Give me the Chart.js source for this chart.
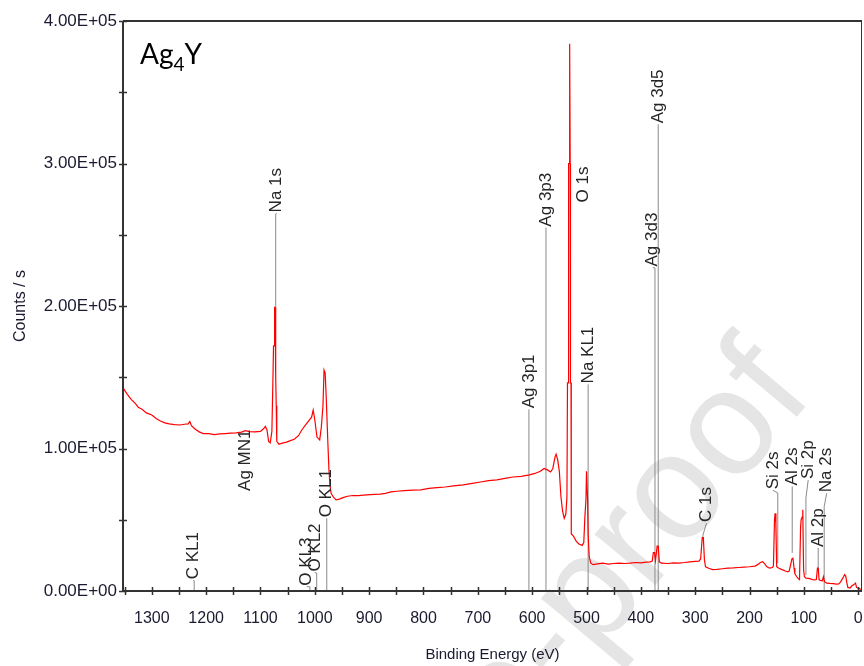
<!DOCTYPE html>
<html>
<head>
<meta charset="utf-8">
<script src="https://cdn.jsdelivr.net/npm/chart.js@4.4.1/dist/chart.umd.min.js"></script>
<style>
html, body { margin: 0; padding: 0; background: #fff; }
canvas { display: block; }
</style>
</head>
<body>
<canvas id="xpsChart" width="864" height="666"></canvas>
<script>
// =======================================================
// Données : spectre XPS (survey) de Ag4Y
// =======================================================

const energy = [
  1352, 1345, 1338, 1330, 1325, 1318, 1310, 1300, 1292, 1285, 1276, 1268, 1258, 1248, 1240, 1233, 1230, 1227,
  1220, 1212, 1205, 1195, 1185, 1175, 1165, 1155, 1145, 1135, 1128, 1120, 1110, 1100, 1094, 1091, 1088, 1085,
  1082, 1079, 1077, 1076, 1075, 1074, 1073, 1072, 1071, 1070, 1066, 1060, 1052, 1045, 1038, 1030, 1024, 1018,
  1012, 1006, 1003, 1000, 996, 991, 988, 985, 983, 981, 979, 976, 974, 972, 970, 966, 961, 955, 948, 940,
  930, 920, 905, 890, 880, 870, 860, 849, 835, 820, 805, 790, 775, 760, 745, 727, 710, 695, 680, 665,
  650, 635, 620, 605, 595, 585, 578, 572, 566, 562, 558, 556, 553, 550, 547, 544, 541, 538, 536, 535,
  534, 533, 532, 531, 530, 529.5, 528.5, 528, 524, 519, 514, 508, 505, 503, 501, 500, 498, 497, 495, 492,
  488, 480, 470, 460, 450, 440, 430, 420, 410, 400, 390, 383, 379, 377, 375, 373, 370, 368, 366, 362,
  350, 340, 330, 320, 310, 300, 293, 290, 287, 285, 283, 281, 275, 268, 260, 250, 240, 230, 220, 210,
  200, 190, 185, 180, 176, 172, 168, 163, 158, 156, 154, 153, 151.5, 150, 146, 140, 134, 130, 127, 124,
  122, 120, 118, 116.5, 113, 110, 108, 106, 105, 103, 102, 100.5, 99, 96, 92, 88, 84, 80, 77, 75,
  73.5, 72, 70, 66, 64, 62, 58, 52, 46, 40, 36, 33, 30, 27, 25, 23, 21, 19, 15, 12,
  8, 5, 3, 0, -3, -7
];

const counts = [
  142000, 138000, 134500, 131500, 129000, 127500, 125000, 123500, 121000, 119500, 118000, 117300, 116800, 116500, 117000, 117300, 119000, 116000,
  113500, 111500, 110500, 110500, 109800, 110200, 110500, 110800, 111000, 111500, 112500, 111800, 111700, 112000, 114000, 115500, 113000, 105000,
  104000, 112000, 150000, 172000, 172000, 199000, 199000, 150000, 130000, 105000, 103000, 103800, 104500, 105500, 106500, 109000, 113000, 116000,
  119000, 122000, 127000, 120000, 108000, 106000, 115000, 130000, 155000, 153000, 136000, 104000, 85000, 74000, 68500, 66000, 64000, 64500, 65500, 66500,
  67000, 67000, 67500, 67800, 68000, 68500, 69500, 70000, 70500, 70800, 71000, 72000, 72500, 73000, 73800, 74500, 75500, 76500, 77500, 78000,
  79000, 80000, 80500, 81500, 82500, 84000, 86000, 85000, 83500, 86000, 94000, 96000, 92000, 84000, 66000, 56000, 51000, 54000, 66000, 146000,
  146000, 300000, 300000, 384000, 300000, 146000, 146000, 40000, 38500, 35000, 33000, 32000, 34000, 52000, 64000, 84000, 64000, 40000, 24000, 19500,
  18500, 19000, 19500, 18800, 19300, 19500, 19300, 19600, 20000, 19800, 20200, 20500, 21000, 27000, 27000, 21500, 31500, 31500, 20500, 19500,
  19300, 19800, 19600, 20000, 20500, 20800, 21000, 22500, 37500, 37500, 22000, 17000, 16000, 15000, 15200, 15600, 16000, 16200, 16500, 16800,
  17000, 17500, 18500, 20000, 20600, 19000, 17000, 16000, 16500, 17500, 50000, 54500, 47500, 17000, 16000, 15000, 14000, 13500, 14000, 19000,
  22500, 23000, 16000, 12000, 10000, 8500, 8000, 45000, 50000, 52000, 57000, 15000, 10000, 9000, 8800, 8500, 8000, 7800, 8000, 16000,
  16000, 8000, 7500, 7200, 10000, 6500, 5500, 5300, 5200, 4800, 5000, 6000, 8000, 10000, 11500, 10500, 6000, 2500, 2000, 3500,
  4500, 5500, 2500, 2000, 1500, 1200
];

// repères des pics (lignes grises + étiquettes)
const peakNames   = ["C KL1", "O KL3", "O KL2", "O KL1", "Ag MN1", "Na 1s", "Ag 3p1", "Ag 3p3", "O 1s",
                     "Na KL1", "Ag 3d3", "Ag 3d5", "C 1s", "Si 2s", "Al 2s", "Si 2p", "Al 2p", "Na 2s"];
const peakEnergy  = [1222, 1009, 996.5, 978, 1128.5, 1072, 606, 574.6, 506.5,
                     497, 374, 368, 285.7, 148, 121.4, 96.2, 73.6, 62.6];
const peakLow     = [0, 0, 0, 0, 69500, 199000, 0, 0, 272000,
                     0, 0, 0, 37900, 19600, 26700, 11200, 12600, 700];
const peakHigh    = [7200, 3000, 12600, 49800, 69500, 264600, 127000, 254700, 272000,
                     144600, 226700, 327000, 39300, 68800, 70900, 65300, 28800, 59200];
const labelEnergy = [1224, 1015, 1000, 978, 1128.5, 1070, 606, 574.6, 506.5,
                     497, 378, 368, 279, 157, 121.4, 92, 73.6, 58];
const labelBase   = [7500, 3000, 12900, 51000, 69500, 265000, 127500, 255000, 272000,
                     145000, 227000, 327500, 47700, 70700, 73400, 77900, 30200, 68600];

const xTicks = [0, 50, 100, 150, 200, 250, 300, 350, 400, 450, 500, 550, 600, 650,
                700, 750, 800, 850, 900, 950, 1000, 1050, 1100, 1150, 1200, 1250, 1300, 1350];
const yTicks = [0, 50000, 100000, 150000, 200000, 250000, 300000, 350000, 400000];

const sampleName = "Ag";
const sampleSub = "4";
const sampleEnd = "Y";


// =======================================================
// Plugins de dessin
// =======================================================

function sci(v){
    if (v === 0) return "0.00E+00";
    const e = Math.floor(Math.log10(v));
    const m = v / Math.pow(10, e);
    return m.toFixed(2) + "E+" + String(e).padStart(2, "0");
}

const watermark = {
    id: "watermark",
    beforeDraw(chart){
        const ctx = chart.ctx;
        ctx.save();
        ctx.translate(815, 395);
        ctx.rotate(-50 * Math.PI / 180);
        ctx.font = '150px "Liberation Sans", Arial, sans-serif';
        ctx.fillStyle = "#e5e5e5";
        ctx.textAlign = "right";
        ctx.fillText("Journal Pre-proof", 0, 0);
        ctx.restore();
    }
};

const peakLabels = {
    id: "peakLabels",
    afterDatasetsDraw(chart){
        const ctx = chart.ctx;
        const xs = chart.scales.x, ys = chart.scales.y;
        ctx.save();
        ctx.font = '17px "Liberation Sans", Arial, sans-serif';
        ctx.fillStyle = "#262626";
        ctx.textAlign = "left";
        ctx.textBaseline = "middle";
        peakNames.forEach((name, i) => {
            const px = xs.getPixelForValue(labelEnergy[i]);
            const py = ys.getPixelForValue(labelBase[i]);
            ctx.save();
            ctx.translate(px, py);
            ctx.rotate(-Math.PI / 2);
            ctx.fillText(name, 1, 0);
            ctx.restore();
        });

        // nom de l'échantillon
        const a = chart.chartArea;
        ctx.fillStyle = "#000";
        ctx.textBaseline = "alphabetic";
        ctx.font = '28px Lato, "Open Sans", sans-serif';
        let x = a.left + 17;
        const y = a.top + 43;
        ctx.fillText(sampleName, x, y);
        x += ctx.measureText(sampleName).width;
        ctx.font = '19px Lato, "Open Sans", sans-serif';
        ctx.fillText(sampleSub, x, y + 7);
        x += ctx.measureText(sampleSub).width;
        ctx.font = '28px Lato, "Open Sans", sans-serif';
        ctx.fillText(sampleEnd, x, y);
        ctx.restore();
    }
};

const frame = {
    id: "frame",
    afterDraw(chart){
        const ctx = chart.ctx;
        const a = chart.chartArea;
        const xs = chart.scales.x, ys = chart.scales.y;
        ctx.save();
        ctx.strokeStyle = "#333";
        ctx.lineWidth = 2;
        ctx.beginPath();
        ctx.moveTo(a.left, a.top); ctx.lineTo(a.right, a.top);
        ctx.moveTo(a.left, a.top); ctx.lineTo(a.left, a.bottom);
        ctx.moveTo(a.left - 1, a.bottom); ctx.lineTo(a.right, a.bottom);
        ctx.stroke();
        ctx.lineWidth = 1;
        ctx.beginPath();
        ctx.moveTo(a.right - 0.5, a.top); ctx.lineTo(a.right - 0.5, a.bottom);
        ctx.stroke();

        // graduations qui traversent les axes
        ctx.lineWidth = 1.5;
        ctx.beginPath();
        xTicks.forEach(v => {
            const px = Math.round(xs.getPixelForValue(v)) + 0.5;
            if (px < a.left + 2) return;
            ctx.moveTo(px, a.bottom - 4); ctx.lineTo(px, a.bottom + 4);
        });
        yTicks.forEach(v => {
            const py = Math.round(ys.getPixelForValue(v)) + 0.5;
            ctx.moveTo(a.left - 4, py); ctx.lineTo(a.left + 4, py);
        });
        ctx.stroke();
        ctx.restore();
    }
};


// =======================================================
// Graphique
// =======================================================

function drawSpectrum(){

    const datasets = [{
        data: energy.map((e, i) => ({x: e, y: counts[i]})),
        showLine: true,
        borderColor: "#ff0000",
        borderWidth: 1.2,
        pointRadius: 0,
        order: 0
    }];

    peakNames.forEach((name, i) => {
        datasets.push({
            data: [
                {x: peakEnergy[i], y: peakLow[i]},
                {x: peakEnergy[i], y: peakHigh[i]},
                {x: labelEnergy[i], y: labelBase[i]}
            ],
            showLine: true,
            borderColor: "#8a8a8a",
            borderWidth: 1,
            pointRadius: 0,
            order: 1
        });
    });

    const tickFont = {family: '"Liberation Sans", Arial, sans-serif'};

    new Chart(document.getElementById("xpsChart"), {

        type: "scatter",

        data: {datasets},

        options: {

            responsive: false,
            animation: false,

            layout: {padding: {top: 21, right: 2, left: 0, bottom: 0}},

            plugins: {
                legend: {display: false},
                tooltip: {enabled: false}
            },

            scales: {
                x: {
                    type: "linear",
                    reverse: true,
                    min: -7,
                    max: 1353,
                    afterBuildTicks: s => { s.ticks = xTicks.map(v => ({value: v})); },
                    afterFit: s => { s.height = 75; },
                    grid: {display: false, drawTicks: false},
                    border: {display: false},
                    ticks: {
                        autoSkip: false,
                        maxRotation: 0,
                        padding: 18,
                        color: "#1a1a30",
                        font: {...tickFont, size: 16},
                        callback: v => (v % 100 === 0 ? String(v) : "")
                    },
                    title: {
                        display: true,
                        text: "Binding Energy (eV)",
                        color: "#1a1a30",
                        font: {...tickFont, size: 15},
                        padding: {top: 0, bottom: 2}
                    }
                },
                y: {
                    min: 0,
                    max: 400000,
                    afterBuildTicks: s => { s.ticks = yTicks.map(v => ({value: v})); },
                    afterFit: s => { s.width = 123; },
                    grid: {display: false, drawTicks: false},
                    border: {display: false},
                    ticks: {
                        autoSkip: false,
                        padding: 6,
                        color: "#1a1a30",
                        font: {...tickFont, size: 17},
                        callback: v => (v % 100000 === 0 ? sci(v) : "")
                    },
                    title: {
                        display: true,
                        text: "Counts / s",
                        color: "#1a1a30",
                        font: {...tickFont, size: 16},
                        padding: {top: 11, bottom: 0}
                    }
                }
            }
        },

        plugins: [watermark, peakLabels, frame]

    });

}

window.addEventListener("load", drawSpectrum);
</script>
</body>
</html>
